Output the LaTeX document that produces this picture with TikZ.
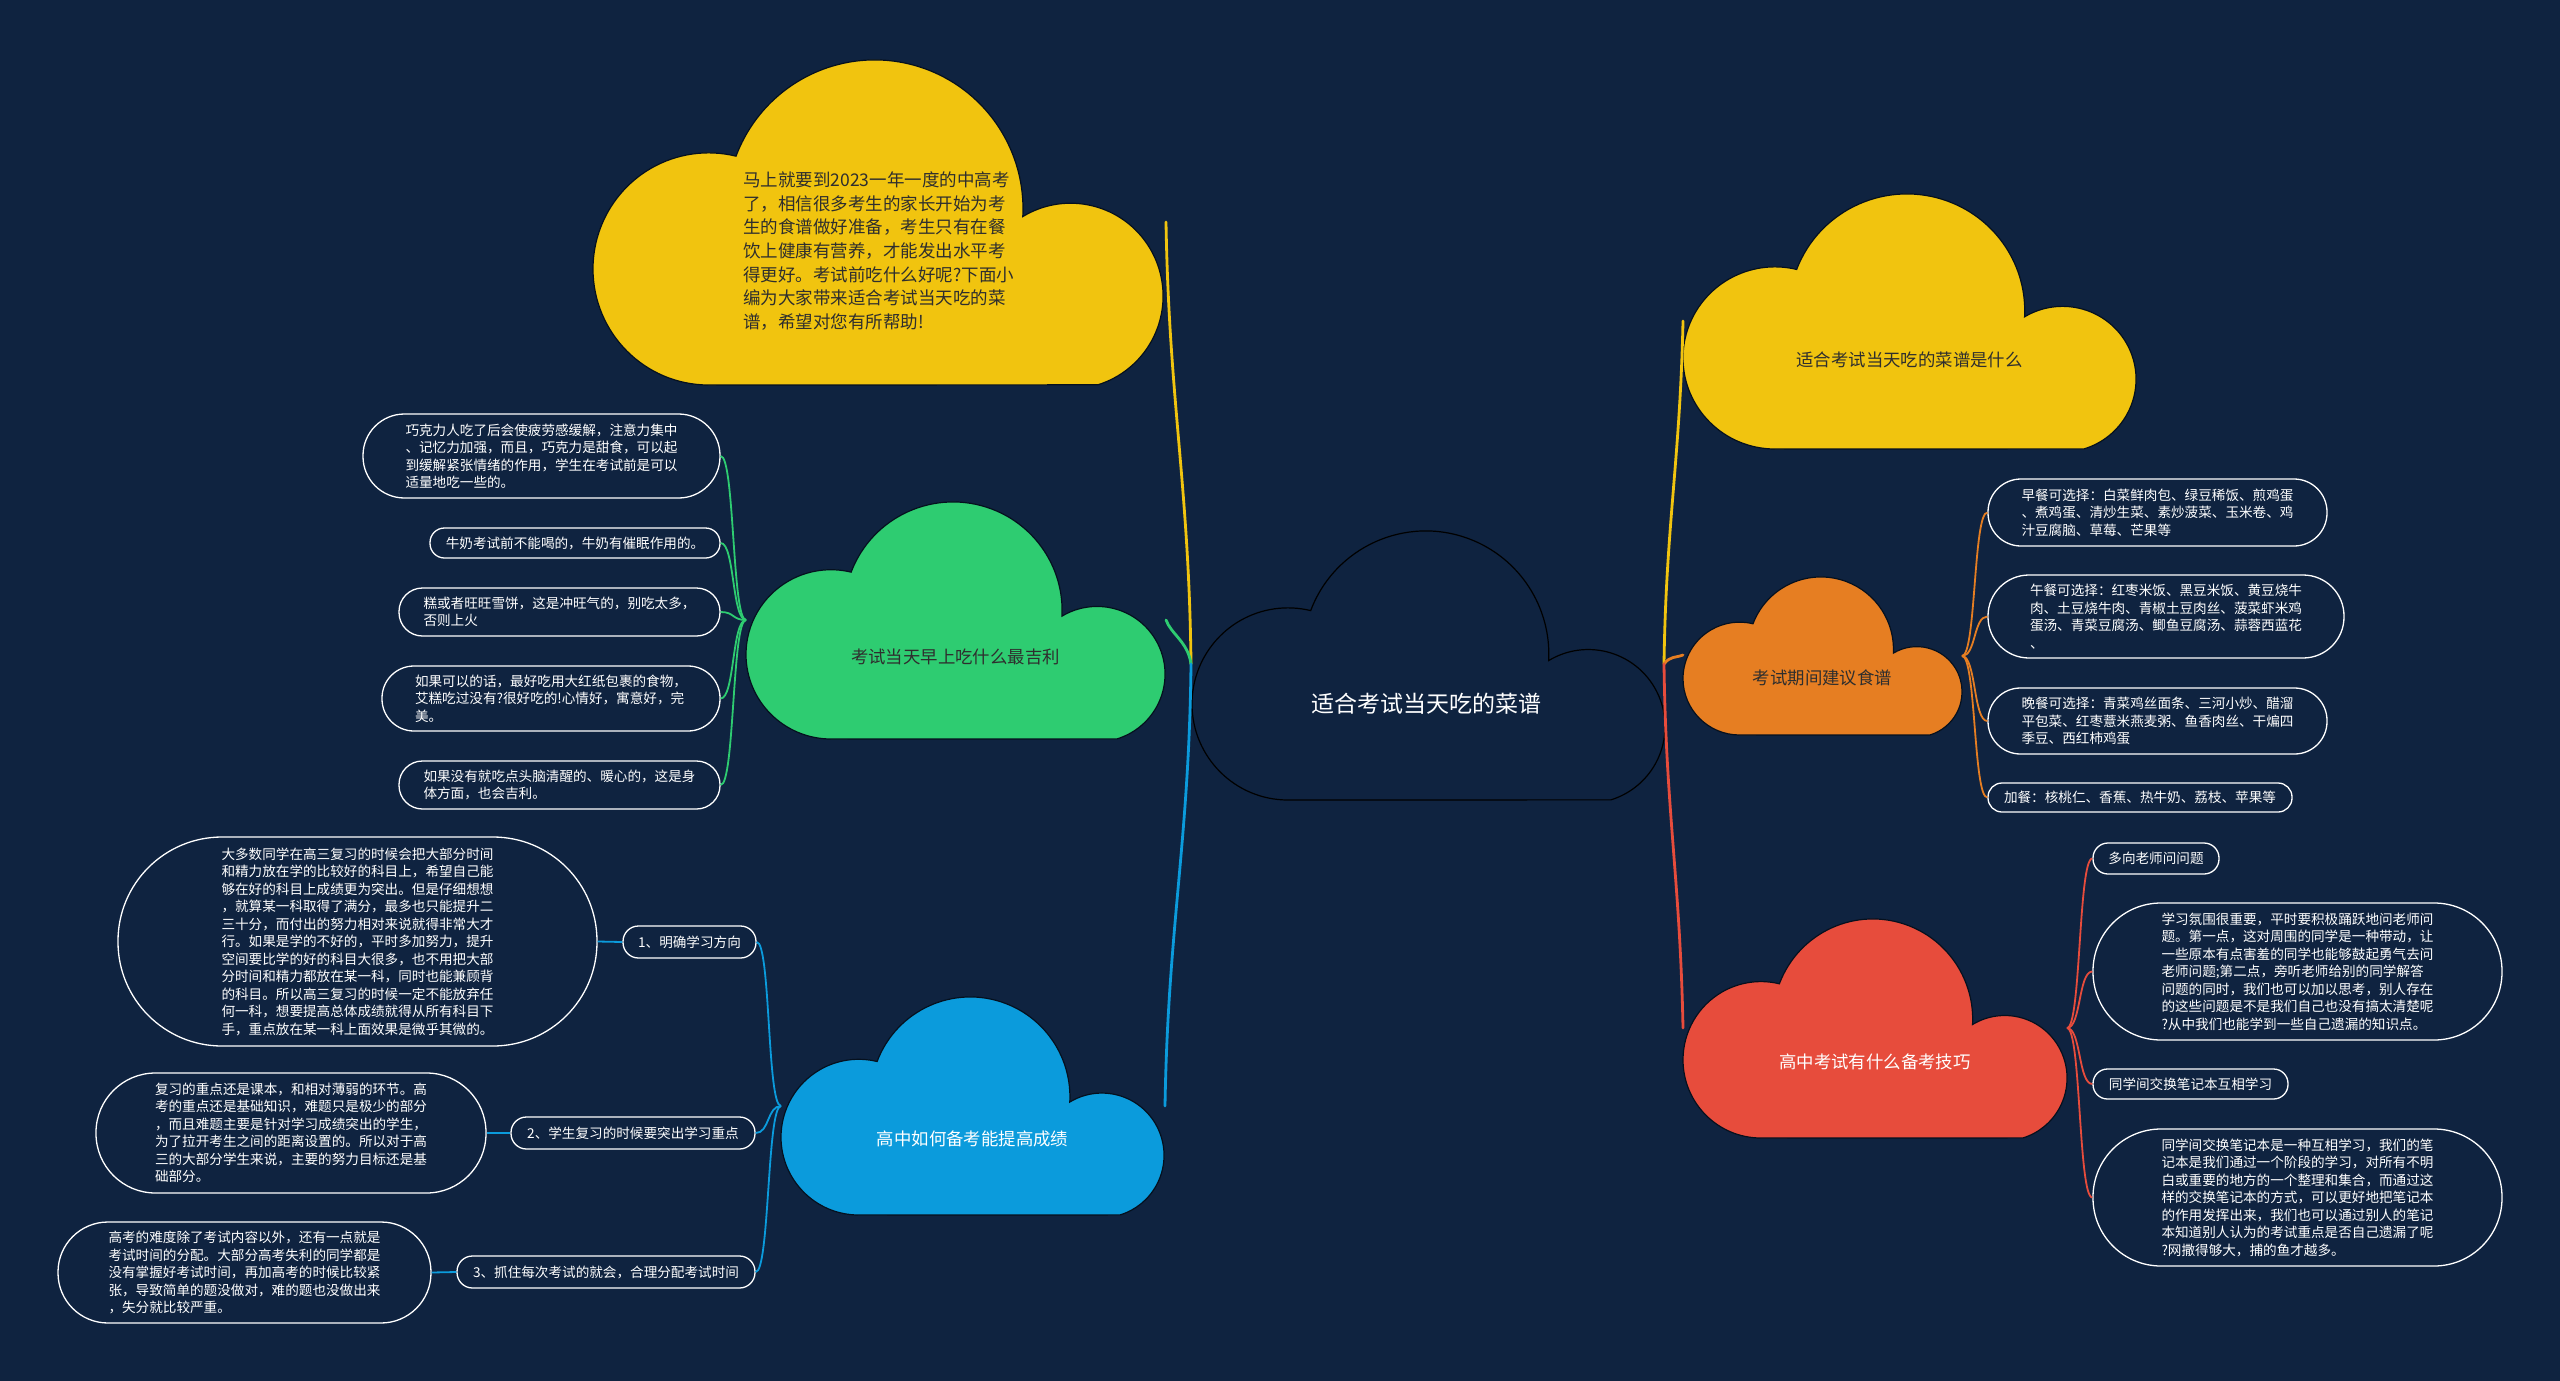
\documentclass[tikz,border=0pt]{standalone}
\usepackage{fontspec}
\newfontfamily\cjk{Noto Sans CJK SC}
\definecolor{bg}{HTML}{0F2340}
\definecolor{cyel}{HTML}{F1C40F}
\definecolor{cgrn}{HTML}{2ECC71}
\definecolor{cblu}{HTML}{0B9BDC}
\definecolor{corg}{HTML}{E67E22}
\definecolor{cred}{HTML}{E74C3C}
\definecolor{dtxt}{HTML}{2E2E2E}
\definecolor{cedge}{HTML}{05101E}
\newcommand\cloudat[6]{%
  \begin{scope}[shift={(#1,-#2-#4)},xscale=#3/419,yscale=#4/238]
    \path[fill=#5,draw=#6,line width=1.2pt] (85,0)
      arc[start angle=270,end angle=76.3,radius=85]
      arc[start angle=159.3,end angle=-3,radius=109]
      arc[start angle=121.1,end angle=-72.9,radius=68] -- cycle;
  \end{scope}}
\tikzset{
  leaf/.style={draw=white,line width=1.3pt,fill=bg,text=white,
    font=\cjk\fontsize{13.6pt}{17.5pt}\selectfont,align=left,inner sep=0pt},
  trunk/.style={line width=2.8pt,line cap=round},
  twig/.style={line width=1.8pt},
  cloudtext/.style={font=\cjk\fontsize{17.4pt}{22pt}\selectfont,inner sep=0pt},
}
\begin{document}
\begin{tikzpicture}[x=1pt,y=1pt]
\fill[bg] (0,0) rectangle (2560,-1381);
\useasboundingbox (0,0) rectangle (2560,-1381);

% clouds
\cloudat{1192}{531}{473}{269}{bg}{black}
\cloudat{593}{60}{570}{325}{cyel}{cedge}
\cloudat{746}{502}{419}{237}{cgrn}{cedge}
\cloudat{781}{997}{383}{218}{cblu}{cedge}
\cloudat{1683}{194}{453}{255}{cyel}{cedge}
\cloudat{1683}{577}{279}{158}{corg}{cedge}
\cloudat{1683}{919}{384}{219}{cred}{cedge}

% cloud labels
\node[cloudtext,text=white,font=\cjk\fontsize{23pt}{28pt}\selectfont] (root) at (1426,-704) {适合考试当天吃的菜谱};
\node[cloudtext,text=dtxt,anchor=west,align=left,font=\cjk\fontsize{17.5pt}{23.7pt}\selectfont] (intro) at (743,-251) {马上就要到2023一年一度的中高考\\了，相信很多考生的家长开始为考\\生的食谱做好准备，考生只有在餐\\饮上健康有营养，才能发出水平考\\得更好。考试前吃什么好呢?下面小\\编为大家带来适合考试当天吃的菜\\谱，希望对您有所帮助!};
\node[cloudtext,text=dtxt] (gtop) at (955.5,-657) {考试当天早上吃什么最吉利};
\node[cloudtext,text=white] (btop) at (972.5,-1139) {高中如何备考能提高成绩};
\node[cloudtext,text=dtxt] (ytop) at (1909.5,-360) {适合考试当天吃的菜谱是什么};
\node[cloudtext,text=dtxt] (otop) at (1822.5,-678) {考试期间建议食谱};
\node[cloudtext,text=white] (rtop) at (1875,-1062) {高中考试有什么备考技巧};

% anchor points
\coordinate (L) at (1191,-664);
\coordinate (R) at (1664,-664);
\coordinate (introR) at (1166,-222);
\coordinate (greenR) at (1166,-620);
\coordinate (blueR) at (1165,-1106);
\coordinate (yelL) at (1683,-321);
\coordinate (orgL) at (1683,-655);
\coordinate (redL) at (1683,-1028);
\coordinate (gJ) at (746,-620);
\coordinate (bJ) at (781,-1106);
\coordinate (oJ) at (1962,-656);
\coordinate (rJ) at (2067,-1028);

% green leaves
\node[leaf,minimum width=357pt,minimum height=84pt,rounded corners=41.5pt] (g1) at (541.5,-456) {巧克力人吃了后会使疲劳感缓解，注意力集中\\、记忆力加强，而且，巧克力是甜食，可以起\\到缓解紧张情绪的作用，学生在考试前是可以\\适量地吃一些的。};
\node[leaf,minimum width=290pt,minimum height=30pt,rounded corners=14.5pt] (g2) at (575,-543) {牛奶考试前不能喝的，牛奶有催眠作用的。};
\node[leaf,minimum width=321pt,minimum height=48pt,rounded corners=23.5pt] (g3) at (559.5,-612) {糕或者旺旺雪饼，这是冲旺气的，别吃太多，\\否则上火};
\node[leaf,minimum width=338pt,minimum height=65pt,rounded corners=32pt] (g4) at (551,-698.5) {如果可以的话，最好吃用大红纸包裹的食物，\\艾糕吃过没有?很好吃的!心情好，寓意好，完\\美。};
\node[leaf,minimum width=321pt,minimum height=48pt,rounded corners=23.5pt] (g5) at (559.5,-785) {如果没有就吃点头脑清醒的、暖心的，这是身\\体方面，也会吉利。};

% blue leaves
\node[leaf,minimum width=133pt,minimum height=32pt,rounded corners=15.5pt] (b1) at (689.5,-942) {1、明确学习方向};
\node[leaf,minimum width=479pt,minimum height=209pt,rounded corners=104pt] (b1t) at (357.5,-941.5) {大多数同学在高三复习的时候会把大部分时间\\和精力放在学的比较好的科目上，希望自己能\\够在好的科目上成绩更为突出。但是仔细想想\\，就算某一科取得了满分，最多也只能提升二\\三十分，而付出的努力相对来说就得非常大才\\行。如果是学的不好的，平时多加努力，提升\\空间要比学的好的科目大很多，也不用把大部\\分时间和精力都放在某一科，同时也能兼顾背\\的科目。所以高三复习的时候一定不能放弃任\\何一科，想要提高总体成绩就得从所有科目下\\手，重点放在某一科上面效果是微乎其微的。};
\node[leaf,minimum width=244pt,minimum height=32pt,rounded corners=15.5pt] (b2) at (633,-1133) {2、学生复习的时候要突出学习重点};
\node[leaf,minimum width=390pt,minimum height=120pt,rounded corners=59.5pt] (b2t) at (291,-1133) {复习的重点还是课本，和相对薄弱的环节。高\\考的重点还是基础知识，难题只是极少的部分\\，而且难题主要是针对学习成绩突出的学生，\\为了拉开考生之间的距离设置的。所以对于高\\三的大部分学生来说，主要的努力目标还是基\\础部分。};
\node[leaf,minimum width=298pt,minimum height=32pt,rounded corners=15.5pt] (b3) at (606,-1272) {3、抓住每次考试的就会，合理分配考试时间};
\node[leaf,minimum width=373pt,minimum height=101pt,rounded corners=50pt] (b3t) at (244.5,-1272.5) {高考的难度除了考试内容以外，还有一点就是\\考试时间的分配。大部分高考失利的同学都是\\没有掌握好考试时间，再加高考的时候比较紧\\张，导致简单的题没做对，难的题也没做出来\\，失分就比较严重。};

% orange leaves
\node[leaf,minimum width=339pt,minimum height=67pt,rounded corners=33pt] (o1) at (2157.5,-512.5) {早餐可选择：白菜鲜肉包、绿豆稀饭、煎鸡蛋\\、煮鸡蛋、清炒生菜、素炒菠菜、玉米卷、鸡\\汁豆腐脑、草莓、芒果等};
\node[leaf,minimum width=356pt,minimum height=83pt,rounded corners=41pt] (o2) at (2166,-616.5) {午餐可选择：红枣米饭、黑豆米饭、黄豆烧牛\\肉、土豆烧牛肉、青椒土豆肉丝、菠菜虾米鸡\\蛋汤、青菜豆腐汤、鲫鱼豆腐汤、蒜蓉西蓝花\\、};
\node[leaf,minimum width=339pt,minimum height=66pt,rounded corners=32.5pt] (o3) at (2157.5,-721) {晚餐可选择：青菜鸡丝面条、三河小炒、醋溜\\平包菜、红枣薏米燕麦粥、鱼香肉丝、干煸四\\季豆、西红柿鸡蛋};
\node[leaf,minimum width=304pt,minimum height=29pt,rounded corners=14pt] (o4) at (2140,-797.5) {加餐：核桃仁、香蕉、热牛奶、荔枝、苹果等};

% red leaves
\node[leaf,minimum width=126pt,minimum height=31pt,rounded corners=15pt] (r1) at (2156,-858.5) {多向老师问问题};
\node[leaf,minimum width=409pt,minimum height=137pt,rounded corners=68pt] (r2) at (2297.5,-971.5) {学习氛围很重要，平时要积极踊跃地问老师问\\题。第一点，这对周围的同学是一种带动，让\\一些原本有点害羞的同学也能够鼓起勇气去问\\老师问题;第二点，旁听老师给别的同学解答\\问题的同时，我们也可以加以思考，别人存在\\的这些问题是不是我们自己也没有搞太清楚呢\\?从中我们也能学到一些自己遗漏的知识点。};
\node[leaf,minimum width=195pt,minimum height=30pt,rounded corners=14.5pt] (r3) at (2190.5,-1084) {同学间交换笔记本互相学习};
\node[leaf,minimum width=409pt,minimum height=137pt,rounded corners=68pt] (r4) at (2297.5,-1197.5) {同学间交换笔记本是一种互相学习，我们的笔\\记本是我们通过一个阶段的学习，对所有不明\\白或重要的地方的一个整理和集合，而通过这\\样的交换笔记本的方式，可以更好地把笔记本\\的作用发挥出来，我们也可以通过别人的笔记\\本知道别人认为的考试重点是否自己遗漏了呢\\?网撒得够大，捕的鱼才越多。};

% trunk connectors
\draw[trunk,cyel] (L) .. controls +(-2,180) and +(3,-180) .. (introR);
\draw[trunk,cgrn] (L) .. controls +(-3,22) and +(5,-14) .. (greenR);
\draw[trunk,cblu] (L) .. controls +(-2,-180) and +(3,180) .. (blueR);
\draw[trunk,cyel] (R) .. controls +(2,140) and +(-3,-140) .. (yelL);
\draw[trunk,corg] (R) .. controls +(6,8) and +(-8,-3) .. (orgL);
\draw[trunk,cred] (R) .. controls +(2,-150) and +(-3,150) .. (redL);

% twig connectors
\foreach \n in {g1,g2,g3,g4,g5}
  \draw[twig,cgrn] (gJ) .. controls +(-14,0) and +(14,0) .. (\n.east);
\foreach \n in {b1,b2,b3}
  \draw[twig,cblu] (bJ) .. controls +(-14,0) and +(14,0) .. (\n.east);
\draw[twig,cblu] (b1t.east) -- (b1.west);
\draw[twig,cblu] (b2t.east) -- (b2.west);
\draw[twig,cblu] (b3t.east) -- (b3.west);
\foreach \n in {o1,o2,o3,o4}
  \draw[twig,corg] (oJ) .. controls +(14,0) and +(-14,0) .. (\n.west);
\foreach \n in {r1,r2,r3,r4}
  \draw[twig,cred] (rJ) .. controls +(14,0) and +(-14,0) .. (\n.west);
\end{tikzpicture}
\end{document}
